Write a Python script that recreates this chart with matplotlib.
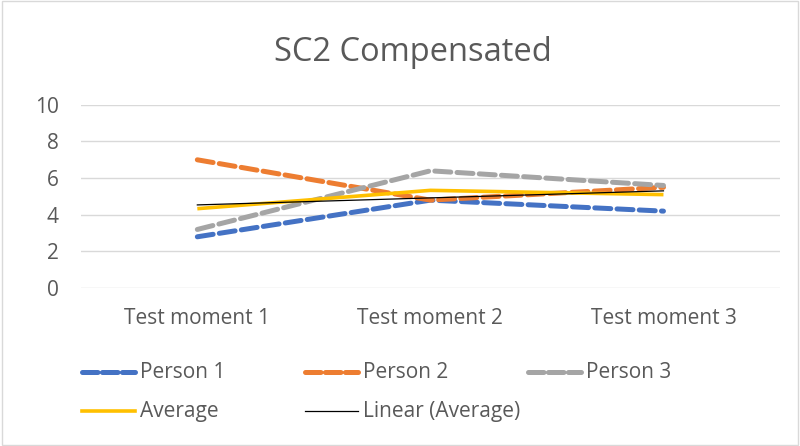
import numpy as np
import matplotlib
matplotlib.use('Agg')
import matplotlib.pyplot as plt
from matplotlib.lines import Line2D
from matplotlib.patches import Rectangle

plt.rcParams['font.family'] = ['Open Sans', 'DejaVu Sans']

# ── Data ──
moments = ['Test moment 1', 'Test moment 2', 'Test moment 3']
person1 = [2.8, 4.8, 4.2]
person2 = [7.0, 4.8, 5.5]
person3 = [3.2, 6.4, 5.6]
average = np.mean([person1, person2, person3], axis=0)

x = np.arange(len(moments))
slope, icpt = np.polyfit(x, average, 1)
trend = slope * x + icpt

txt = '#595959'
colors = {'Person 1': '#4472C4', 'Person 2': '#ED7D31', 'Person 3': '#A5A5A5'}

fig = plt.figure(figsize=(8, 4.46), dpi=100)
ax = fig.add_axes([0.101, 0.354, 0.874, 0.411])

dash_kw = dict(linewidth=3.6, dashes=(3.2, 1.25), dash_capstyle='round',
               solid_capstyle='round')
for name, vals in [('Person 1', person1), ('Person 2', person2),
                   ('Person 3', person3)]:
    ax.plot(x, vals, color=colors[name], **dash_kw)
ax.plot(x, average, color='#FFC000', linewidth=2.6, solid_capstyle='butt')
ax.plot(x, trend, color='black', linewidth=0.9)

ax.set_xlim(-0.5, 2.5)
ax.set_ylim(0, 10)
ax.set_yticks(range(0, 11, 2))
ax.set_xticks(x)
ax.set_xticklabels(moments)
ax.tick_params(length=0, labelsize=15, labelcolor=txt)
ax.tick_params(axis='x', pad=14)
ax.tick_params(axis='y', pad=16)
ax.grid(axis='y', color='#D9D9D9', linewidth=1.0)
ax.set_axisbelow(True)
for s in ax.spines.values():
    s.set_visible(False)

fig.text(0.516, 0.882, 'SC2 Compensated', ha='center', va='center',
         fontsize=23.5, color=txt)

# ── Legend (equal-width columns) ──
entries = [
    ('Person 1', colors['Person 1'], 'dash', 82, 372),
    ('Person 2', colors['Person 2'], 'dash', 305, 372),
    ('Person 3', colors['Person 3'], 'dash', 528, 372),
    ('Average', '#FFC000', 'avg', 82, 411),
    ('Linear (Average)', 'black', 'trend', 305, 411),
]
W, H = 800, 446
for label, col, kind, px, py in entries:
    yy = 1 - py / H
    xs = [px / W, (px + 53) / W]
    if kind == 'dash':
        ln = Line2D(xs, [yy, yy], color=col, linewidth=3.6, dashes=(3.1, 0.9),
                    dash_capstyle='round', transform=fig.transFigure)
    elif kind == 'avg':
        ln = Line2D(xs, [yy, yy], color=col, linewidth=2.6,
                    transform=fig.transFigure)
    else:
        ln = Line2D(xs, [yy, yy], color=col, linewidth=0.9,
                    transform=fig.transFigure)
    fig.add_artist(ln)
    fig.text((px + 58) / W, yy, label, ha='left', va='center',
             fontsize=15, color=txt)

# chart border
fig.add_artist(Rectangle((0.002, 0.002), 0.996, 0.996, transform=fig.transFigure,
                         fill=False, edgecolor='#D9D9D9', linewidth=1.0))

fig.savefig('out.png', dpi=100)
